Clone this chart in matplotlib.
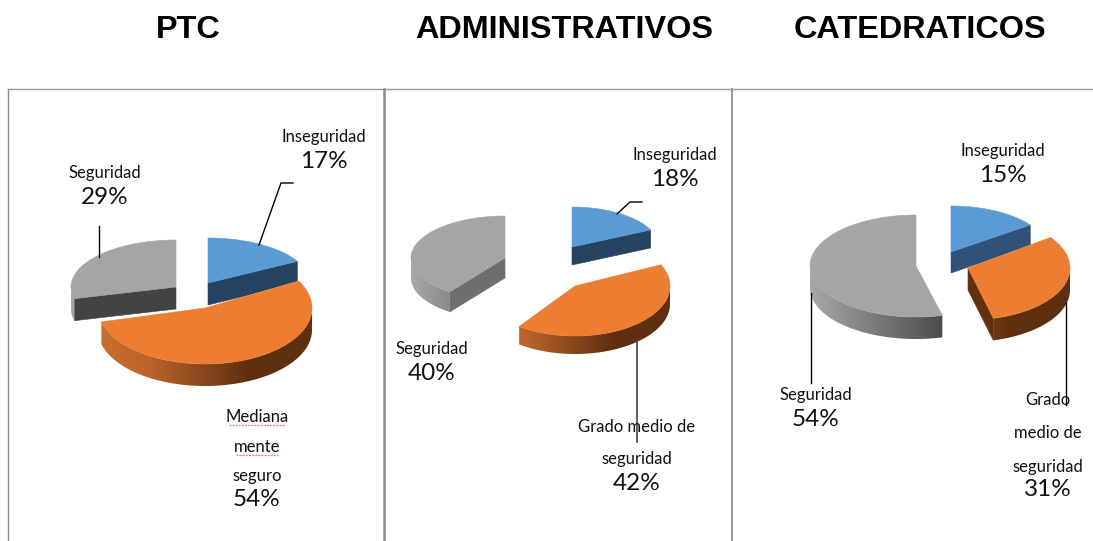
import numpy as np
import matplotlib.pyplot as plt
from matplotlib.colors import LinearSegmentedColormap
from matplotlib.patches import Polygon

# Datos de cada grupo
titles = ['PTC', 'ADMINISTRATIVOS', 'CATEDRATICOS']
ptc_values = [17, 54, 29]
adm_values = [18, 42, 40]
cat_values = [15, 31, 54]

ptc_labels = ['Inseguridad', 'Mediana\nmente\nseguro', 'Seguridad']
adm_labels = ['Inseguridad', 'Grado medio de\nseguridad', 'Seguridad']
cat_labels = ['Inseguridad', 'Grado\nmedio de\nseguridad', 'Seguridad']

# Geometria en pixeles: centro x, centro y, radio x, radio y, profundidad
ptc_geom = [(208, 283, 102, 45, 22), (205, 308, 107, 56, 22), (176, 287, 105, 47, 22)]
adm_geom = [(572, 247, 87, 40, 18), (575, 286, 95, 50, 18), (505, 258, 94, 42, 20)]
cat_geom = [(951, 252, 98, 46, 21), (968, 268, 102, 52, 22), (916, 266, 106, 51, 22)]

top_colors = ['#5b9bd5', '#ed7d31', '#a5a5a5']
ptc_faces = ['#264461', '#61300f', '#434343']
adm_faces = ['#264461', '#61300f', '#6e6e6e']
cat_faces = ['#30527a', '#61300f', '#6e6e6e']

# Degradados de la pared exterior (fraccion del ancho, color)
wall_maps = [
    LinearSegmentedColormap.from_list('azul', [(0, '#264461'), (1, '#264461')]),
    LinearSegmentedColormap.from_list('naranja', [(0, '#c9702f'), (0.25, '#b9622a'), (0.7, '#5f3010'), (1, '#5f3010')]),
    LinearSegmentedColormap.from_list('gris', [(0, '#a8a8a8'), (0.64, '#4a4a4a'), (1, '#4a4a4a')]),
]


def point(g, a):
    return g[0] + g[2] * np.sin(a), g[1] - g[3] * np.cos(a)


def draw_slice(ax, g, a0, a1, top, face, cmap):
    cx, cy, rx, ry, d = g
    ang = np.linspace(a0, a1, 160)
    xs, ys = point(g, ang)
    tx = np.r_[cx, xs]
    ty = np.r_[cy, ys]

    # contorno blanco que separa las porciones
    ax.fill(np.r_[tx, tx], np.r_[ty, ty + d], color='white', lw=0)
    ax.fill(tx, ty + d, color='white', lw=2.2, ec='white')

    # caras radiales visibles
    if np.sin(a0) < 0:
        x, y = point(g, a0)
        ax.fill([cx, x, x, cx], [cy, y, y + d, cy + d], color=face, lw=0.4)
    if np.sin(a1) > 0:
        x, y = point(g, a1)
        ax.fill([cx, x, x, cx], [cy, y, y + d, cy + d], color=face, lw=0.4)

    # pared exterior con degradado
    lo = max(a0, np.pi / 2)
    hi = min(a1, 3 * np.pi / 2)
    if hi > lo:
        front = np.linspace(hi, lo, 120)
        fx, fy = point(g, front)
        outline = np.c_[np.r_[fx, fx[::-1]], np.r_[fy, fy[::-1] + d]]
        clip = Polygon(outline, transform=ax.transData, fc='none', ec='none')
        ax.add_patch(clip)
        grad = np.linspace(0, 1, 256).reshape(1, -1)
        im = ax.imshow(grad, cmap=cmap, vmin=0, vmax=1, aspect='auto',
                       extent=[cx - rx, cx + rx, cy + ry + d, cy - ry], zorder=2)
        im.set_clip_path(clip)

    ax.fill(tx, ty, color=top, lw=0.4, zorder=2)


def draw_pie(ax, values, geom, faces):
    edges = np.r_[0, np.cumsum(values)] / np.sum(values) * 2 * np.pi
    for i in range(3):
        draw_slice(ax, geom[i], edges[i], edges[i + 1], top_colors[i], faces[i], wall_maps[i])


def draw_label(ax, x, ys, text, value, y_pct):
    for line, y in zip(text.split('\n'), ys):
        ax.text(x, y + 2, line, ha='center', va='center', fontsize=12, family='Lato', color='#111111', zorder=5)
    ax.text(x, y_pct + 2, f'{value}%', ha='center', va='center', fontsize=17.5, family='Lato', color='#111111', zorder=5)


fig = plt.figure(figsize=(10.93, 5.41), dpi=100)
ax = fig.add_axes([0, 0, 1, 1])
ax.axis('off')

# Titulos
for t, x in zip(titles, [188, 564, 920]):
    ax.text(x, 29.5, t, ha='center', va='center', fontsize=23.3, fontweight='bold',
            family='Liberation Sans', color='black')

# Marco de la tabla
ax.plot([8, 1093], [89, 89], color='#999999', lw=1)
ax.plot([8, 8], [89, 541], color='#8c8c8c', lw=1)
ax.plot([384, 384], [89, 541], color='#8c8c8c', lw=1.8)
ax.plot([732, 732], [89, 541], color='#999999', lw=1.4)

draw_pie(ax, ptc_values, ptc_geom, ptc_faces)
draw_pie(ax, adm_values, adm_geom, adm_faces)
draw_pie(ax, cat_values, cat_geom, cat_faces)

# Lineas guia
ax.plot([259, 281, 293], [245, 183, 183], color='black', lw=1, zorder=4)
ax.plot([99, 99], [257, 226], color='black', lw=1, zorder=4)
ax.plot([617, 630, 642], [214, 202, 202], color='black', lw=1, zorder=4)
ax.plot([637, 637], [340, 442], color='#444444', lw=1.2, zorder=4)
ax.plot([811, 811], [293, 383], color='black', lw=1, zorder=4)
ax.plot([1066, 1066], [303, 405], color='black', lw=1, zorder=4)

# Etiquetas
draw_label(ax, 324, [135], ptc_labels[0], ptc_values[0], 160)
draw_label(ax, 105, [171], ptc_labels[2], ptc_values[2], 195)
draw_label(ax, 257, [415, 445, 474], ptc_labels[1], ptc_values[1], 497)

draw_label(ax, 675, [153], adm_labels[0], adm_values[0], 178)
draw_label(ax, 432, [347], adm_labels[2], adm_values[2], 371)
draw_label(ax, 637, [425, 457], adm_labels[1], adm_values[1], 481)

draw_label(ax, 1003, [149], cat_labels[0], cat_values[0], 173)
draw_label(ax, 816, [393], cat_labels[2], cat_values[2], 417)
draw_label(ax, 1048, [398, 431, 465], cat_labels[1], cat_values[1], 488)

# Subrayado del corrector ortografico
ax.plot([229, 285], [425, 425], color='#e0707a', lw=0.9, ls=(0, (1.5, 1)))
ax.plot([236, 278], [455, 455], color='#e0707a', lw=0.9, ls=(0, (1.5, 1)))

ax.set_xlim(0, 1093)
ax.set_ylim(541, 0)

fig.savefig('out.png', dpi=100)
